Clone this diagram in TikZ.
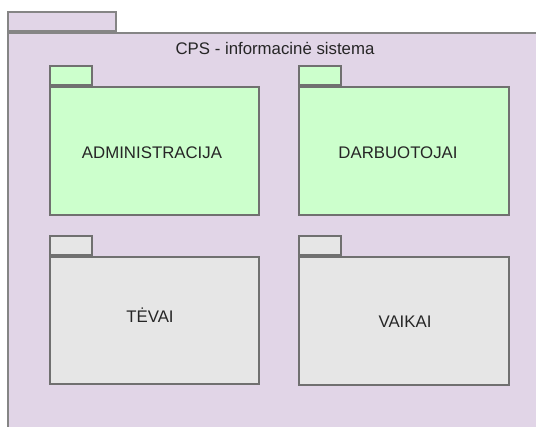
\documentclass[tikz,border=0pt]{standalone}
\usepackage{fontspec}
\setmainfont{Liberation Sans}
\definecolor{outerfill}{HTML}{E1D5E7}
\definecolor{greenfill}{HTML}{CCFFCC}
\definecolor{grayfill}{HTML}{E6E6E6}
\definecolor{edge}{HTML}{707070}
\definecolor{txt}{HTML}{262626}
\begin{document}
\begin{tikzpicture}[x=1pt,y=-1pt,
  pkg/.style={draw=edge, line width=1.6pt, rectangle, inner sep=0pt, anchor=north west},
  pkgtab/.style={pkg, anchor=south west},
  lbl/.style={text=txt, font=\fontsize{16.8}{19}\selectfont, inner sep=0pt}]
\useasboundingbox (0,0) rectangle (536,427);
\clip (0,0) rectangle (536,427);
\fill[white] (0,0) rectangle (536,427);
% outer package
\node[pkg, fill=outerfill, draw=edge!85, minimum width=540, minimum height=410] (outer) at (7,32) {};
\node[pkgtab, fill=outerfill, draw=edge!85, minimum width=108, minimum height=19] (outertab) at (outer.north west) {};
\node[lbl] (title) at (275,48) {CPS - informacinė sistema};
% ADMINISTRACIJA
\node[pkg, fill=greenfill, minimum width=209, minimum height=128] (adm) at (49,86) {};
\node[pkgtab, fill=greenfill, minimum width=42, minimum height=19] (admtab) at (adm.north west) {};
\node[lbl] (admlbl) at (152,153) {ADMINISTRACIJA};
% DARBUOTOJAI
\node[pkg, fill=greenfill, minimum width=210, minimum height=128] (darb) at (298,86) {};
\node[pkgtab, fill=greenfill, minimum width=42, minimum height=19] (darbtab) at (darb.north west) {};
\node[lbl] (darblbl) at (398,153) {DARBUOTOJAI};
% TEVAI
\node[pkg, fill=grayfill, minimum width=209, minimum height=127] (tev) at (49,256) {};
\node[pkgtab, fill=grayfill, minimum width=42, minimum height=19] (tevtab) at (tev.north west) {};
\node[lbl] (tevlbl) at (150,315) {TĖVAI};
% VAIKAI
\node[pkg, fill=grayfill, minimum width=210, minimum height=128] (vaik) at (298,256) {};
\node[pkgtab, fill=grayfill, minimum width=42, minimum height=19] (vaiktab) at (vaik.north west) {};
\node[lbl] (vaiklbl) at (405,322) {VAIKAI};
\end{tikzpicture}
\end{document}
